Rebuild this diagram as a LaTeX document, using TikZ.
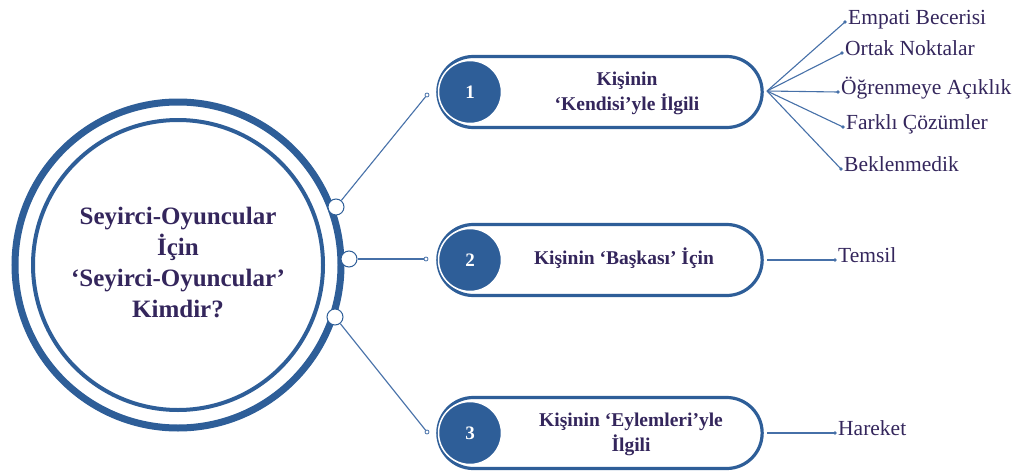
\documentclass[tikz,border=0pt]{standalone}
\usepackage{fontspec}
\setmainfont{Liberation Serif}
\usetikzlibrary{shapes.misc}
\definecolor{ringblue}{RGB}{46,94,152}
\definecolor{linkblue}{RGB}{70,112,168}
\definecolor{txtpurple}{RGB}{52,38,92}
\begin{document}
\begin{tikzpicture}[x=1pt,y=-1pt,
 ring/.style={circle,draw=ringblue,inner sep=0pt},
 pill/.style={rounded rectangle,draw=ringblue,line width=3.2pt,minimum width=331pt,minimum height=71pt,fill=white},
 numc/.style={circle,fill=ringblue,draw=white,line width=1.5pt,minimum size=63pt,inner sep=0pt,text=white,font=\fontsize{19}{20}\selectfont\bfseries},
 pilltext/.style={align=center,text=txtpurple,font=\fontsize{19.5}{25}\selectfont\bfseries},
 knob/.style={circle,draw=ringblue,fill=white,line width=1pt,minimum size=16pt,inner sep=0pt},
 link/.style={draw=linkblue,line width=1.1pt},
 tip/.style={circle,draw=linkblue,fill=white,line width=0.8pt,minimum size=4pt,inner sep=0pt},
 dot/.style={circle,fill=linkblue,minimum size=3.6pt,inner sep=0pt},
 leaf/.style={anchor=mid west,inner sep=1pt,text=txtpurple,font=\fontsize{21.5}{24}\selectfont},
]
\useasboundingbox (0,0) rectangle (1015,471);

% central circles
\node[ring,line width=7pt,minimum size=326pt] (outer) at (178,265) {};
\node[ring,line width=4pt,minimum size=290pt] (inner) at (178,265) {};
\node[align=center,text=txtpurple,font=\fontsize{25}{31}\selectfont\bfseries] (title) at (178,263)
  {Seyirci-Oyuncular\\İçin\\‘Seyirci-Oyuncular’\\Kimdir?};

% pills
\node[pill] (p1) at (600,92) {};
\node[pill] (p2) at (600,260) {};
\node[pill] (p3) at (600,433) {};
\node[numc] (n1) at (470,92) {1};
\node[numc] (n2) at (470,260) {2};
\node[numc] (n3) at (470,433) {3};
\node[pilltext] (t1) at (627,93) {Kişinin\\‘Kendisi’yle İlgili};
\node[pilltext] (t2) at (624,258) {Kişinin ‘Başkası’ İçin};
\node[pilltext] (t3) at (631,434) {Kişinin ‘Eylemleri’yle\\İlgili};

% knobs and tips
\node[tip] (e1) at (427,95) {};
\node[tip] (e2) at (426,259) {};
\node[tip] (e3) at (427,432) {};
\node[knob] (k1) at (336,207) {};
\node[knob] (k2) at (349,259) {};
\node[knob] (k3) at (335,317) {};
\draw[link] (k1) -- (e1);
\draw[link] (k2) -- (e2);
\draw[link] (k3) -- (e3);

% leaves
\node[dot] (d1) at (845,22) {};
\node[dot] (d2) at (842,53) {};
\node[dot] (d3) at (838,92) {};
\node[dot] (d4) at (843,127) {};
\node[dot] (d5) at (841,169) {};
\node[dot] (d6) at (835,260) {};
\node[dot] (d7) at (835,433) {};
\coordinate (r1) at (767,91);
\coordinate (r2) at (767,260);
\coordinate (r3) at (767,433);
\foreach \d in {d1,d2,d3,d4,d5} \draw[link] (r1) -- (\d.center);
\draw[link] (r2) -- (d6.center);
\draw[link] (r3) -- (d7.center);
\node[leaf] (l1) at (d1.east) {Empati Becerisi};
\node[leaf] (l2) at (d2.east) {Ortak Noktalar};
\node[leaf] (l3) at (d3.east) {Öğrenmeye Açıklık};
\node[leaf] (l4) at (d4.east) {Farklı Çözümler};
\node[leaf] (l5) at (d5.east) {Beklenmedik};
\node[leaf] (l6) at (d6.east) {Temsil};
\node[leaf] (l7) at (d7.east) {Hareket};
\end{tikzpicture}
\end{document}
